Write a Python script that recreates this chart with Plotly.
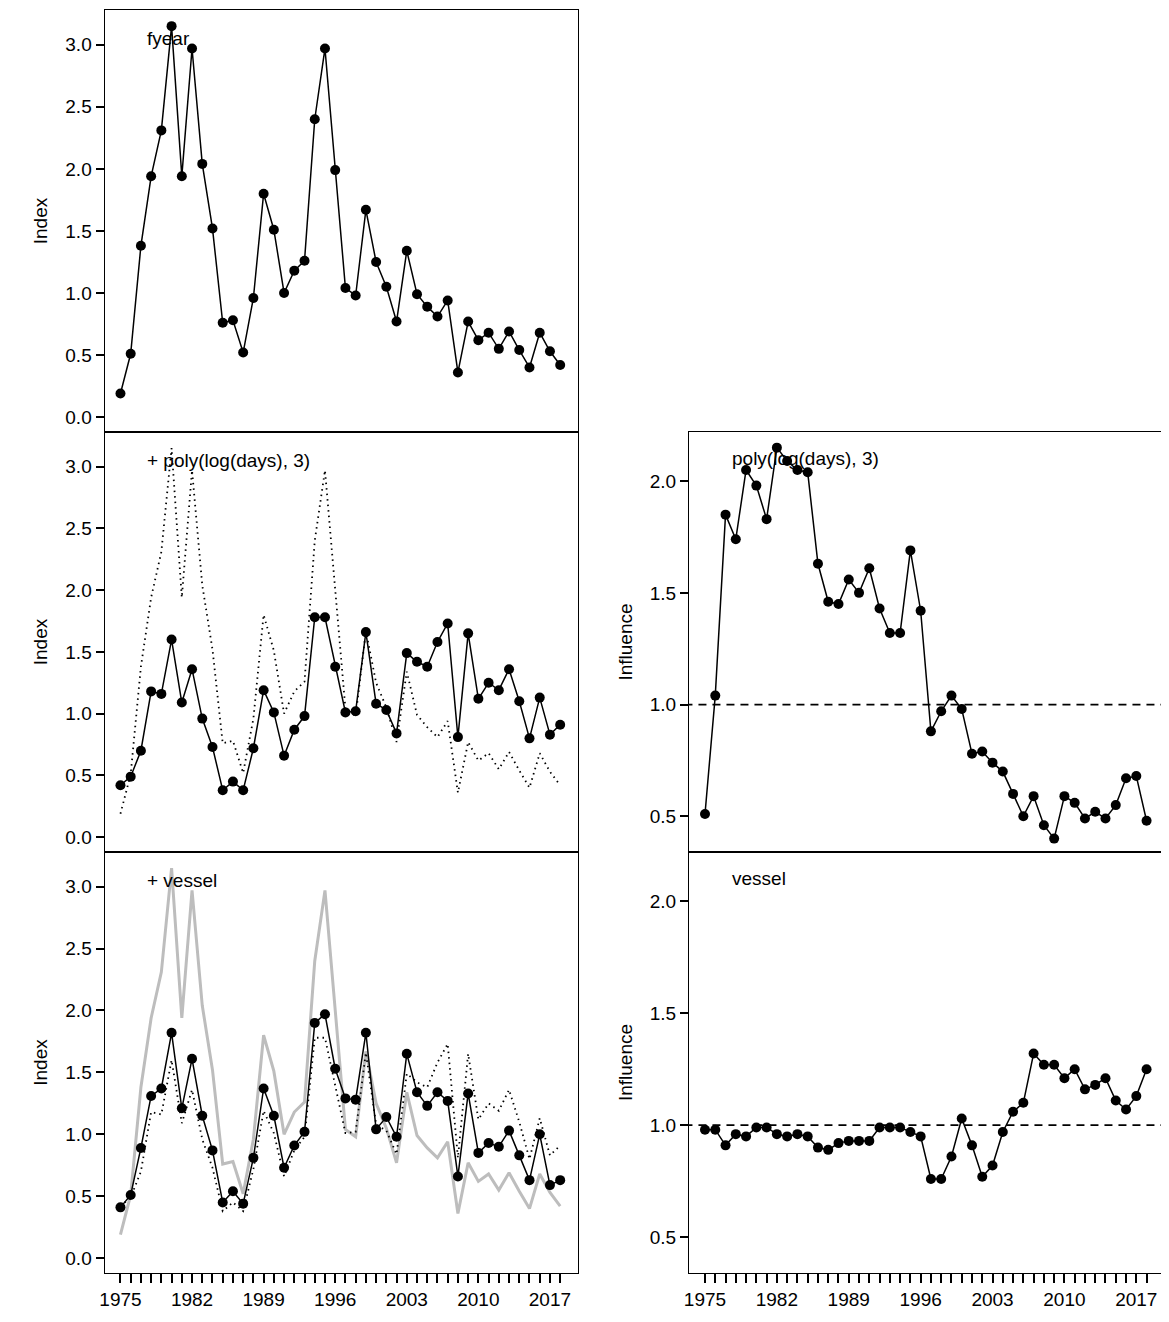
import plotly.graph_objects as go

years = list(range(1975, 2019))

fyear_index = [0.19, 0.51, 1.38, 1.94, 2.31, 3.15, 1.94, 2.97, 2.04, 1.52, 0.76, 0.78, 0.52, 0.96, 1.80,
               1.51, 1.00, 1.18, 1.26, 2.40, 2.97, 1.99, 1.04, 0.98, 1.67, 1.25, 1.05, 0.77, 1.34, 0.99,
               0.89, 0.81, 0.94, 0.36, 0.77, 0.62, 0.68, 0.55, 0.69, 0.54, 0.40, 0.68, 0.53, 0.42]
days_index = [0.42, 0.49, 0.70, 1.18, 1.16, 1.60, 1.09, 1.36, 0.96, 0.73, 0.38, 0.45, 0.38, 0.72, 1.19,
              1.01, 0.66, 0.87, 0.98, 1.78, 1.78, 1.38, 1.01, 1.02, 1.66, 1.08, 1.03, 0.84, 1.49, 1.42,
              1.38, 1.58, 1.73, 0.81, 1.65, 1.12, 1.25, 1.19, 1.36, 1.10, 0.80, 1.13, 0.83, 0.91]
vessel_index = [0.41, 0.51, 0.89, 1.31, 1.37, 1.82, 1.21, 1.61, 1.15, 0.87, 0.45, 0.54, 0.44, 0.81, 1.37,
                1.15, 0.73, 0.91, 1.02, 1.90, 1.97, 1.53, 1.29, 1.28, 1.82, 1.04, 1.14, 0.98, 1.65, 1.34,
                1.23, 1.34, 1.27, 0.66, 1.33, 0.85, 0.93, 0.90, 1.03, 0.83, 0.63, 1.00, 0.59, 0.63]
days_influence = [0.51, 1.04, 1.85, 1.74, 2.05, 1.98, 1.83, 2.15, 2.09, 2.05, 2.04, 1.63, 1.46, 1.45, 1.56,
                  1.50, 1.61, 1.43, 1.32, 1.32, 1.69, 1.42, 0.88, 0.97, 1.04, 0.98, 0.78, 0.79, 0.74, 0.70,
                  0.60, 0.50, 0.59, 0.46, 0.40, 0.59, 0.56, 0.49, 0.52, 0.49, 0.55, 0.67, 0.68, 0.48]
vessel_influence = [0.98, 0.98, 0.91, 0.96, 0.95, 0.99, 0.99, 0.96, 0.95, 0.96, 0.95, 0.90, 0.89, 0.92, 0.93,
                    0.93, 0.93, 0.99, 0.99, 0.99, 0.97, 0.95, 0.76, 0.76, 0.86, 1.03, 0.91, 0.77, 0.82, 0.97,
                    1.06, 1.10, 1.32, 1.27, 1.27, 1.21, 1.25, 1.16, 1.18, 1.21, 1.11, 1.07, 1.13, 1.25]

# page body has an 8px margin on the top/left
OFF = 8
W, H = 1169 - OFF, 1322 - OFF
def px(a, b):
    return [max(0, (a - OFF) / W), min(1, (b - OFF) / W)]
def py(top, bot):
    return [max(0, 1 - (bot - OFF) / H), min(1, 1 - (top - OFF) / H)]
xl = px(100, 575)
xr = px(687, 1164)
rows = [py(10, 432), py(432, 852), py(852, 1273)]
font = "Liberation Sans, Arial, sans-serif"

fig = go.Figure()

def pts(x, y, ax):
    fig.add_trace(go.Scatter(x=x, y=y, mode="lines+markers", xaxis="x" + ax, yaxis="y" + ax,
                             line=dict(color="black", width=1.5), marker=dict(color="black", size=10)))

def ln(x, y, ax, color="black", dash="1.5px,4px", width=1.8):
    fig.add_trace(go.Scatter(x=x, y=y, mode="lines", xaxis="x" + ax, yaxis="y" + ax,
                             line=dict(color=color, width=width, dash=dash)))

# panel 1: fyear
pts(years, fyear_index, "")
# panel 2: + days
ln(years, fyear_index, "2")
pts(years, days_index, "2")
# panel 3: + vessel
ln(years, fyear_index, "3", color="#bdbdbd", dash="solid", width=3)
ln(years, days_index, "3")
pts(years, vessel_index, "3")
# panel 4, 5: influence
ln([1973, 2021], [1, 1], "4", dash="8px,6px", width=1.8)
pts(years, days_influence, "4")
ln([1973, 2021], [1, 1], "5", dash="8px,6px", width=1.8)
pts(years, vessel_influence, "5")

ticktext = [str(y) if (y - 1975) % 7 == 0 else "" for y in years]

def xax(dom, anchor, labels):
    return dict(domain=dom, anchor=anchor, range=[1973.45, 2019.7], showgrid=False, zeroline=False,
                showline=True, mirror=True, linecolor="black", linewidth=1.2,
                tickvals=years, ticktext=ticktext if labels else [""] * len(years),
                ticks="outside" if labels else "", ticklen=9, tickwidth=1.5, tickcolor="black",
                tickfont=dict(size=19, color="black", family=font))

def yax(dom, anchor, rng, dtick, title):
    return dict(domain=dom, anchor=anchor, range=rng, showgrid=False, zeroline=False,
                showline=True, mirror=True, linecolor="black", linewidth=1.2,
                ticks="outside", ticklen=8, tickwidth=1.5, tickcolor="black", dtick=dtick,
                tickformat=".1f", tickfont=dict(size=19, color="black", family=font),
                title=dict(text=title, font=dict(size=19, color="black", family=font), standoff=12))

left_rng = [-0.12, 3.28]
right_rng = [0.34, 2.22]
fig.update_layout(
    width=W, height=H, showlegend=False, plot_bgcolor="white", paper_bgcolor="white",
    margin=dict(l=0, r=0, t=0, b=0),
    xaxis=xax(xl, "y", False), yaxis=yax(rows[0], "x", left_rng, 0.5, "Index"),
    xaxis2=xax(xl, "y2", False), yaxis2=yax(rows[1], "x2", left_rng, 0.5, "Index"),
    xaxis3=xax(xl, "y3", True), yaxis3=yax(rows[2], "x3", left_rng, 0.5, "Index"),
    xaxis4=xax(xr, "y4", False), yaxis4=yax(rows[1], "x4", right_rng, 0.5, "Influence"),
    xaxis5=xax(xr, "y5", True), yaxis5=yax(rows[2], "x5", right_rng, 0.5, "Influence"),
)

labels = [("fyear", "", 3.05), ("+ poly(log(days), 3)", "2", 3.05), ("+ vessel", "3", 3.05),
          ("poly(log(days), 3)", "4", 2.1), ("vessel", "5", 2.1)]
for text, ax, yv in labels:
    fig.add_annotation(x=1977.4, y=yv, xref="x" + ax, yref="y" + ax, text=text, showarrow=False,
                       xanchor="left", yanchor="middle", font=dict(size=19, color="black", family=font))

fig.write_html("out.html")
